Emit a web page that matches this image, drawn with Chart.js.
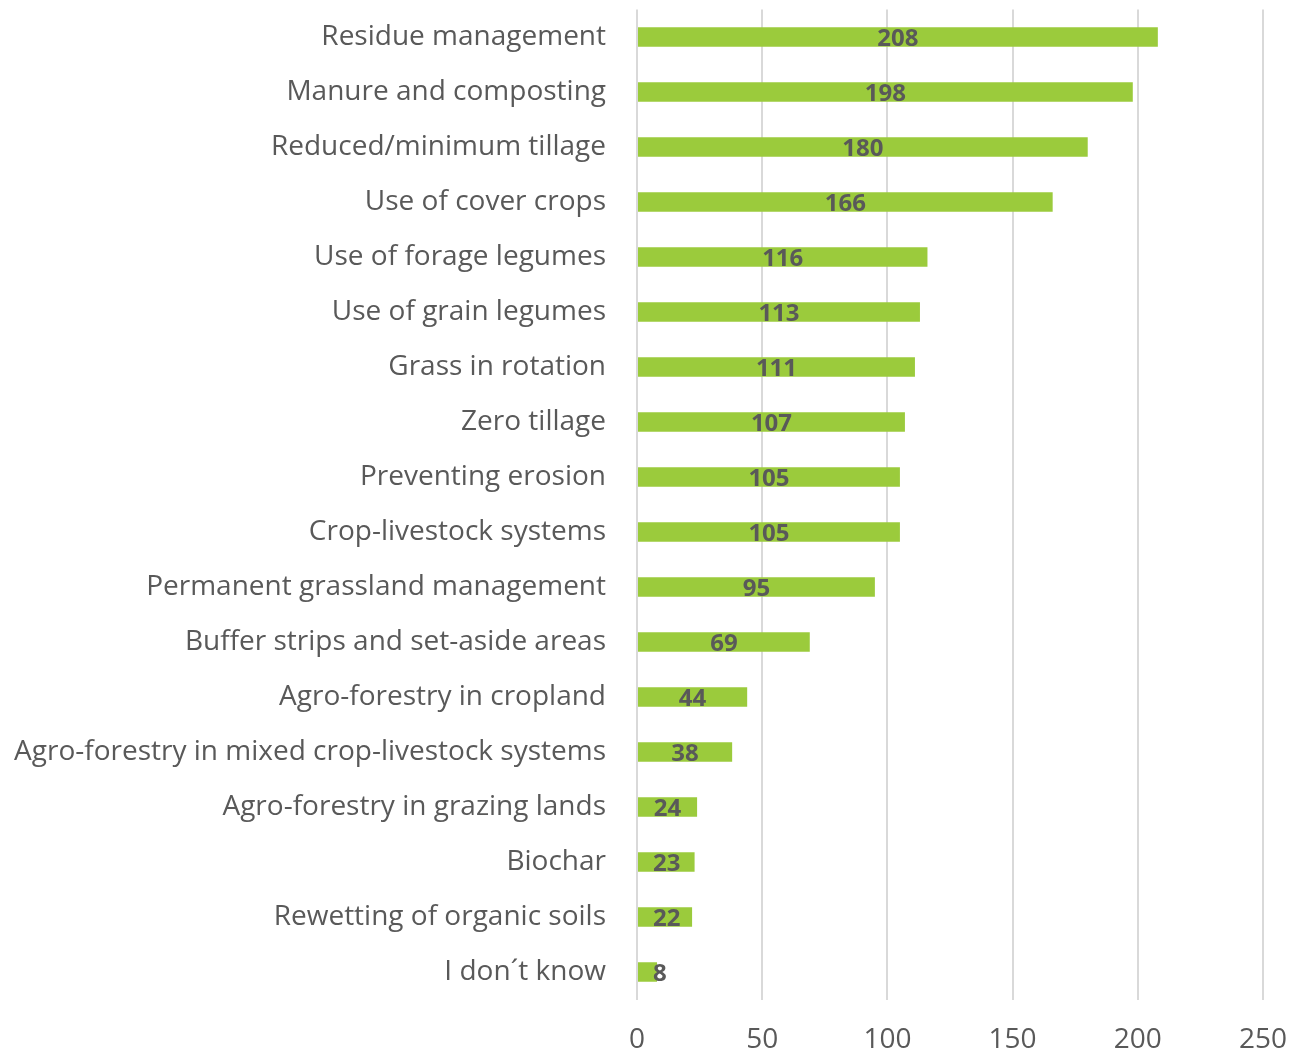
<!DOCTYPE html>
<html>
<head>
<meta charset="utf-8">
<script src="https://cdn.jsdelivr.net/npm/chart.js@4"></script>
<style>
  html, body { margin: 0; padding: 0; background: #fff; }
  #wrap { width: 1290px; height: 1051px; position: relative; }
</style>
</head>
<body>
<div id="wrap"><canvas id="chart"></canvas></div>
<script>
// practices and number of answers
const practices = [
  'Residue management',
  'Manure and composting',
  'Reduced/minimum tillage',
  'Use of cover crops',
  'Use of forage legumes',
  'Use of grain legumes',
  'Grass in rotation',
  'Zero tillage',
  'Preventing erosion',
  'Crop-livestock systems',
  'Permanent grassland management',
  'Buffer strips and set-aside areas',
  'Agro-forestry in cropland',
  'Agro-forestry in mixed crop-livestock systems',
  'Agro-forestry in grazing lands',
  'Biochar',
  'Rewetting of organic soils',
  'I don\u00b4t know'
];
const answers = [208, 198, 180, 166, 116, 113, 111, 107, 105, 105, 95, 69, 44, 38, 24, 23, 22, 8];
const xTicks = [0, 50, 100, 150, 200, 250];

const TEXT = '#595959';
const FONT = '"Open Sans", sans-serif';

// value labels centred in each bar, pushed right a bit when the bar is short
const barLabels = {
  id: 'barLabels',
  afterDatasetsDraw(chart) {
    const ctx = chart.ctx;
    const meta = chart.getDatasetMeta(0);
    const left = chart.chartArea.left;
    ctx.save();
    ctx.font = 'bold 24px ' + FONT;
    ctx.fillStyle = TEXT;
    ctx.textAlign = 'center';
    ctx.textBaseline = 'middle';
    meta.data.forEach((bar, i) => {
      const txt = String(answers[i]);
      const w = ctx.measureText(txt).width;
      const x = Math.max((bar.base + bar.x) / 2, left + w / 2 + 16);
      ctx.fillText(txt, x, bar.y + 2);
    });
    ctx.restore();
  }
};

new Chart(document.getElementById('chart'), {
  type: 'bar',
  data: {
    labels: practices,
    datasets: [{
      data: answers,
      backgroundColor: '#9BCB3C',
      borderWidth: 0,
      categoryPercentage: 1,
      barPercentage: 0.355
    }]
  },
  options: {
    indexAxis: 'y',
    responsive: true,
    maintainAspectRatio: false,
    animation: false,
    layout: { padding: { top: 9.5, right: 27, bottom: 0, left: 0 } },
    plugins: {
      legend: { display: false },
      tooltip: { enabled: false }
    },
    scales: {
      x: {
        min: 0,
        max: 250,
        afterBuildTicks: axis => { axis.ticks = xTicks.map(v => ({ value: v })); },
        afterFit: axis => {
          axis.height = 51.5;
          axis.paddingLeft = 0;
          axis.paddingRight = 0;
        },
        grid: { color: '#D9D9D9', lineWidth: 2, drawTicks: false },
        border: { display: false },
        ticks: { color: TEXT, font: { family: FONT, size: 28 }, padding: 24 }
      },
      y: {
        afterFit: axis => {
          axis.width = 637;
          axis.paddingTop = 0;
          axis.paddingBottom = 0;
        },
        grid: { display: false, drawTicks: false },
        border: { display: false },
        ticks: { color: TEXT, font: { family: FONT, size: 28 }, padding: 31, autoSkip: false }
      }
    }
  },
  plugins: [barLabels]
});
</script>
</body>
</html>
